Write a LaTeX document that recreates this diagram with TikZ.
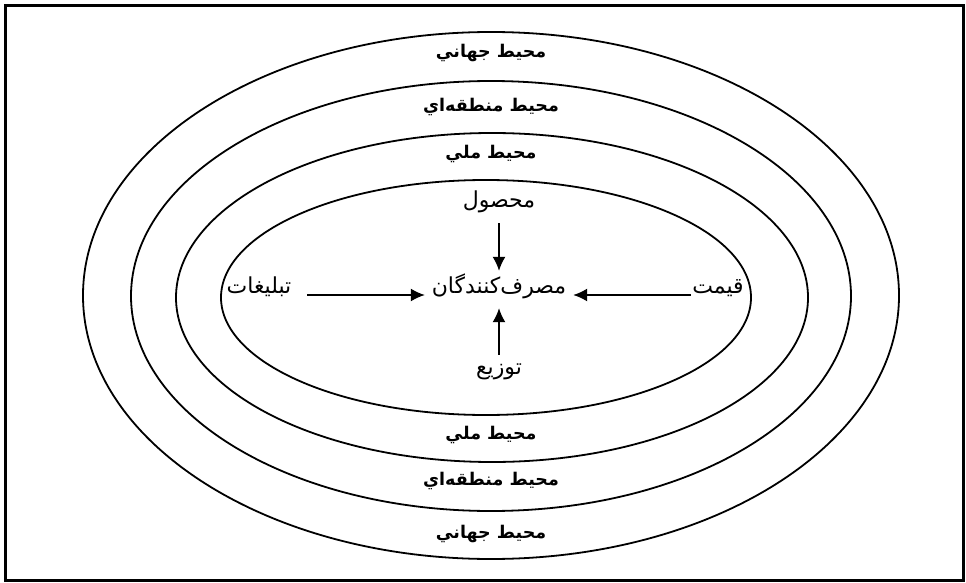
\documentclass[tikz,border=0pt]{standalone}
\usepackage{fontspec}
\usetikzlibrary{arrows.meta}
\TeXXeTstate=1
\newfontfamily\arabicfont[Script=Arabic]{DejaVu Sans}
\begin{document}
\begin{tikzpicture}[x=1pt,y=-1pt,
  ring/.style={line width=1.8pt},
  ringlab/.style={font=\arabicfont\bfseries\fontsize{17.5}{19}\selectfont, inner sep=0pt},
  lab/.style={font=\arabicfont\fontsize{22}{24}\selectfont, inner sep=0pt, text height=6pt, text depth=10pt},
  arr/.style={line width=1.5pt, -{Latex[length=14pt,width=13pt]}}]
\useasboundingbox (0,0) rectangle (966,583);
\draw[line width=3pt] (5,6) rectangle (963,580);
% rings
\coordinate (c1) at (491,295.5);
\coordinate (c2) at (491,296);
\coordinate (c3) at (492,297.5);
\coordinate (c4) at (486,297.5);
\draw[ring] (c1) ellipse [x radius=408pt, y radius=263.5pt];
\draw[ring] (c2) ellipse [x radius=360pt, y radius=215pt];
\draw[ring] (c3) ellipse [x radius=316pt, y radius=164.5pt];
\draw[ring] (c4) ellipse [x radius=265pt, y radius=117.5pt];
% ring labels
\node[ringlab] (wt) at (491,53) {\beginR محيط جهاني\endR};
\node[ringlab] (rt) at (491,107) {\beginR محيط منطقه‌اي\endR};
\node[ringlab] (nt) at (491,154) {\beginR محيط ملي\endR};
\node[ringlab] (nb) at (491,435) {\beginR محيط ملي\endR};
\node[ringlab] (rb) at (491,481) {\beginR محيط منطقه‌اي\endR};
\node[ringlab] (wb) at (491,534) {\beginR محيط جهاني\endR};
% inner labels
\node[lab, minimum width=148pt, minimum height=48pt] (cons) at (499,295) {\beginR مصرف‌کنندگان\endR};
\node[lab, minimum height=28pt] (mahsul) at (499,209) {\beginR محصول\endR};
\node[lab, minimum height=42pt] (tozi) at (499,376) {\beginR توزيع\endR};
\node[lab, minimum width=54pt] (gheymat) at (718,295) {\beginR قيمت\endR};
\node[lab, minimum width=96pt] (tabl) at (259,295) {\beginR تبليغات\endR};
% arrows
\draw[arr] (mahsul.south) -- (cons.north);
\draw[arr, shorten >=-11pt] (tozi.north) -- (cons.south);
\draw[arr] (gheymat.west) -- (cons.east);
\draw[arr] (tabl.east) -- (cons.west);
\end{tikzpicture}
\end{document}
